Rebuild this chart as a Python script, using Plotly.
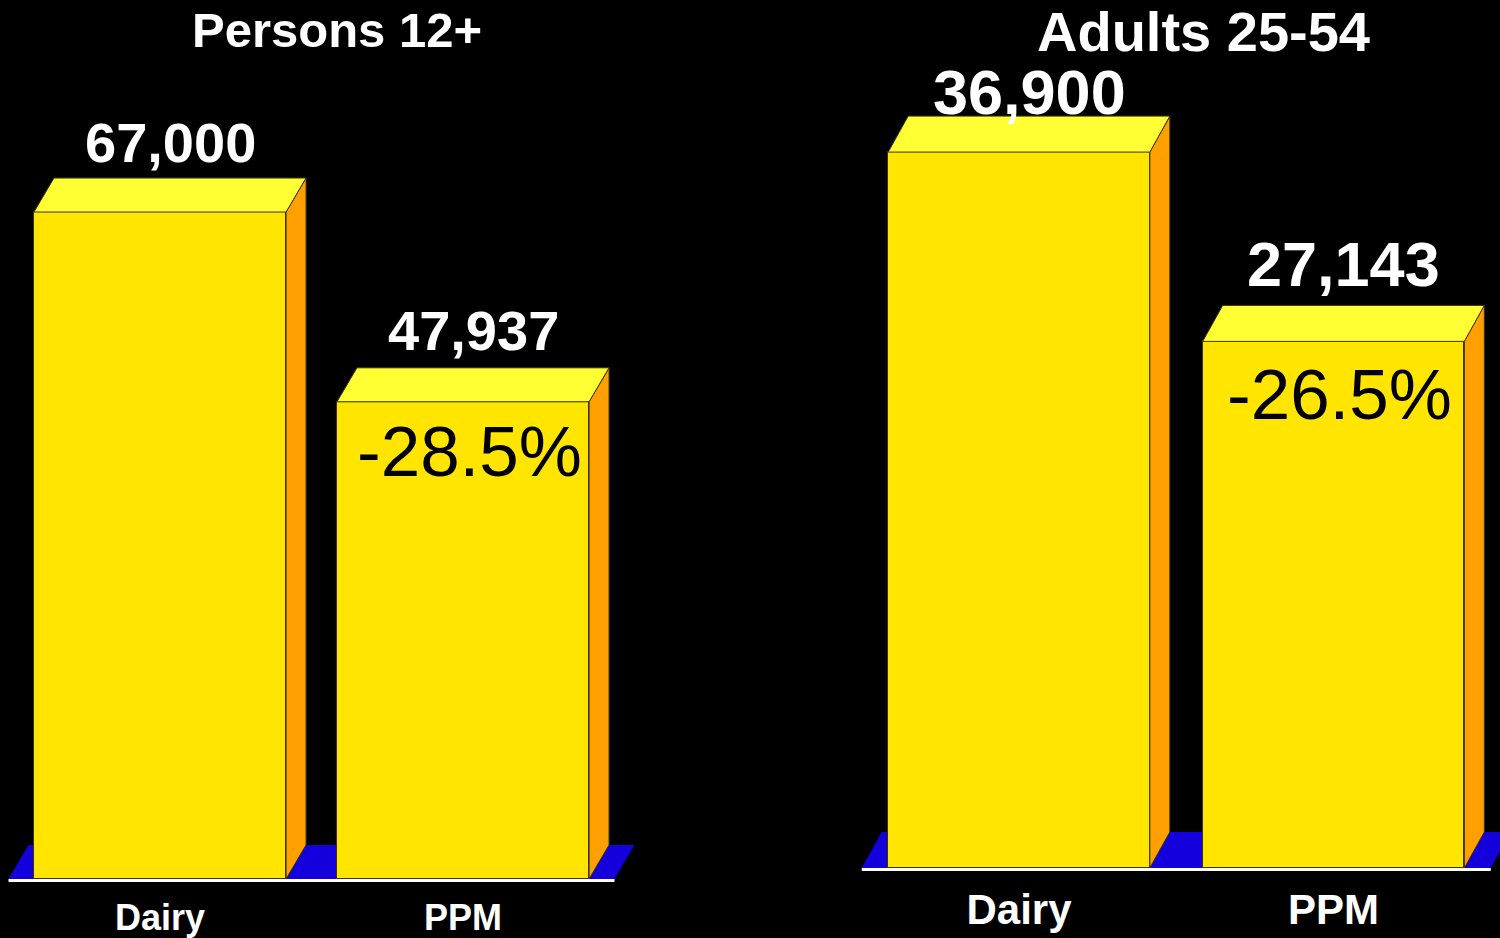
import plotly.graph_objects as go

# ---------------- data ----------------
PANEL_TITLES = ["Persons 12+", "Adults 25-54"]
CATEGORIES = ["Dairy", "PPM"]
PERSONS_12 = [67000, 47937]
ADULTS_25_54 = [36900, 27143]
CHANGE_LABELS = ["-28.5%", "-26.5%"]
SERIES = [PERSONS_12, ADULTS_25_54]

# ---------------- layout / style ----------------
W, H = 1500, 938
FONT = "Liberation Sans, Arial, Helvetica, sans-serif"
FRONT = "#FFE500"
TOP = "#FFFF33"
SIDE = "#FFA000"
FLOOR = "#1400DC"
EDGE = "#3a3400"

# per panel geometry in pixels
DOMAIN_PX = [(0, 650), (850, 1500)]
CAT0_PX = [160, 1019]
SPACING_PX = [303, 314.5]
BASE_PX = [879, 868]
Y_TOP = [88300, 44740]
DEPTH_X_PX = [20, 20]
DEPTH_Y_PX = [34, 36]
BELOW_PX = 6
BAR_W = 0.832
VALUE_FONT = [56, 63]
CAT_FONT = [36, 42]
CAT_STANDOFF = [8, 7]
PCT_FONT = [71, 71]
VALUE_SHIFT = [[36, 37], [24, 41]]
PCT_SHIFT = [-50, -53]
TITLE_POS = [(337, 30, 49), (1203, 32, 56)]

fig = go.Figure()
shapes = []
annotations = []

for p in range(2):
    ax = "" if p == 0 else str(p + 1)
    xref, yref = "x" + ax, "y" + ax
    sp = SPACING_PX[p]
    c0 = CAT0_PX[p]
    base = BASE_PX[p]
    upp = Y_TOP[p] / base  # data units per pixel (y)
    xr = [(DOMAIN_PX[p][0] - c0) / sp, (DOMAIN_PX[p][1] - c0) / sp]
    yr = [-BELOW_PX * upp, Y_TOP[p]]
    dx = DEPTH_X_PX[p] / sp
    dy = DEPTH_Y_PX[p] * upp
    vals = SERIES[p]
    xs = list(range(len(CATEGORIES)))

    fig.update_layout(**{
        "xaxis" + ax: dict(domain=[DOMAIN_PX[p][0] / W, DOMAIN_PX[p][1] / W], range=xr,
                           anchor=yref, showgrid=False, zeroline=False, showline=False,
                           ticks="", tickmode="array", tickvals=xs,
                           ticktext=["<b>%s</b>" % c for c in CATEGORIES],
                           ticklabelstandoff=CAT_STANDOFF[p],
                           tickfont=dict(family=FONT, size=CAT_FONT[p], color="white"),
                           fixedrange=True),
        "yaxis" + ax: dict(domain=[(H - base - BELOW_PX) / H, 1], range=yr, anchor=xref,
                           visible=False, showgrid=False, zeroline=False, fixedrange=True),
    })

    # floor
    x_lo, x_hi = -0.5, len(CATEGORIES) - 0.5
    shapes.append(dict(type="path", xref=xref, yref=yref, layer="below",
                       path=f"M {x_lo},0 L {x_hi},0 L {x_hi+dx},{dy} L {x_lo+dx},{dy} Z",
                       fillcolor=FLOOR, line=dict(width=0)))
    shapes.append(dict(type="line", xref=xref, yref=yref, layer="below",
                       x0=x_lo, x1=x_hi, y0=-1.5 * upp, y1=-1.5 * upp,
                       line=dict(color="white", width=3)))

    # front faces
    fig.add_trace(go.Bar(x=xs, y=vals, width=BAR_W, xaxis=xref, yaxis=yref,
                         marker=dict(color=FRONT, line=dict(color=EDGE, width=1)),
                         hoverinfo="skip", showlegend=False))

    # side and top faces
    for x, v in zip(xs, vals):
        r = x + BAR_W / 2
        l = x - BAR_W / 2
        fig.add_trace(go.Scatter(x=[r, r + dx, r + dx, r, r], y=[0, dy, v + dy, v, 0],
                                 xaxis=xref, yaxis=yref, mode="lines", fill="toself",
                                 fillcolor=SIDE, line=dict(color=EDGE, width=1),
                                 hoverinfo="skip", showlegend=False))
        fig.add_trace(go.Scatter(x=[l, r, r + dx, l + dx, l], y=[v, v, v + dy, v + dy, v],
                                 xaxis=xref, yaxis=yref, mode="lines", fill="toself",
                                 fillcolor=TOP, line=dict(color=EDGE, width=1),
                                 hoverinfo="skip", showlegend=False))

    # value labels
    for i, (x, v) in enumerate(zip(xs, vals)):
        annotations.append(dict(xref=xref, yref=yref, x=x + dx / 2, y=v + dy,
                                text="<b>{:,}</b>".format(v), showarrow=False,
                                yanchor="middle", yshift=VALUE_SHIFT[p][i],
                                font=dict(family=FONT, size=VALUE_FONT[p], color="white")))
    # percentage change label
    annotations.append(dict(xref=xref, yref=yref, x=xs[1], y=vals[1],
                            text=CHANGE_LABELS[p], showarrow=False, xshift=6,
                            yanchor="middle", yshift=PCT_SHIFT[p],
                            font=dict(family=FONT, size=PCT_FONT[p], color="black")))
    # title
    tx, ty, tsz = TITLE_POS[p]
    annotations.append(dict(xref="paper", yref="paper", x=tx / W, y=1 - ty / H,
                            text="<b>%s</b>" % PANEL_TITLES[p], showarrow=False,
                            xanchor="center", yanchor="middle",
                            font=dict(family=FONT, size=tsz, color="white")))

fig.update_layout(width=W, height=H, margin=dict(l=0, r=0, t=0, b=0),
                  paper_bgcolor="black", plot_bgcolor="black",
                  shapes=shapes, annotations=annotations, bargap=0,
                  showlegend=False)

fig.write_html("out.html", config={"displayModeBar": False},
               post_script="document.body.style.margin='0';"
                           "document.body.style.overflow='hidden';"
                           "document.body.style.background='black';")
